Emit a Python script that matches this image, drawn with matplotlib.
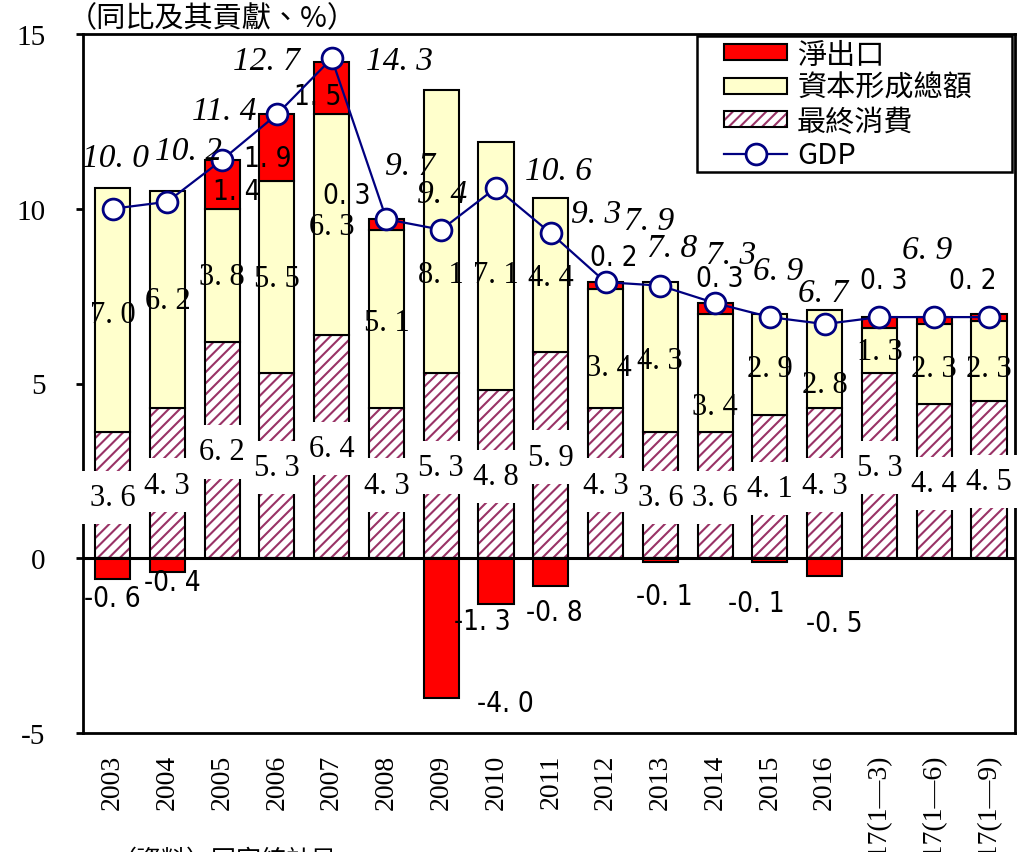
import matplotlib
matplotlib.use("Agg")
import matplotlib.pyplot as plt
from matplotlib.patches import Patch, Rectangle
from matplotlib.lines import Line2D

# contributions to GDP growth (percentage points) and GDP growth (%)
categories = ["2003", "2004", "2005", "2006", "2007", "2008", "2009", "2010",
              "2011", "2012", "2013", "2014", "2015", "2016",
              "2017(1—3)", "2017(1—6)", "2017(1—9)"]
consumption = [3.6, 4.3, 6.2, 5.3, 6.4, 4.3, 5.3, 4.8, 5.9, 4.3, 3.6, 3.6, 4.1, 4.3, 5.3, 4.4, 4.5]
capital = [7.0, 6.2, 3.8, 5.5, 6.3, 5.1, 8.1, 7.1, 4.4, 3.4, 4.3, 3.4, 2.9, 2.8, 1.3, 2.3, 2.3]
net_exports = [-0.6, -0.4, 1.4, 1.9, 1.5, 0.3, -4.0, -1.3, -0.8, 0.2, -0.1, 0.3, -0.1, -0.5, 0.3, 0.2, 0.2]
gdp = [10.0, 10.2, 11.4, 12.7, 14.3, 9.7, 9.4, 10.6, 9.3, 7.9, 7.8, 7.3, 6.9, 6.7, 6.9, 6.9, 6.9]

# hand-placed label offsets in pixels (dx, dy-down), None = label hidden
gdp_off = [(3, -51), (21, -51), (2, -49), (-10, -54), (68, 2), (24, -53), (1, -36),
           (62, -17), (45, -19), (44, -61), (12, -38), (16, -48), (8, -46), (-2, -31),
           None, (-7, -67), None]
net_off = [(0, 19), (5, 10), (15, 31), (-9, 44), (-14, 34), (-40, -24), (64, 5),
           (-14, 17), (4, 26), (8, -25), (4, 34), (5, -25), (-14, 41), (10, 47),
           (4, -37), None, (-16, -34)]
cap_off = [(0, 4), (0, 1), (0, 1), (0, 2), (0, 2), (0, 4), (0, 43), (0, 8), (0, 2),
           (3, 19), (0, 3), (0, 33), (0, 4), (0, 25), (0, 1), (0, 4), (0, 8)]

RED = "#ff0000"
YEL = "#ffffcc"
PUR = "#993366"
NAVY = "#000080"
SERIF = ["Liberation Serif", "DejaVu Serif"]
CJK = ["Noto Sans CJK TC", "DejaVu Sans"]
NARROW = ["Liberation Sans Narrow", "DejaVu Sans"]

plt.rcParams["hatch.linewidth"] = 1.5
plt.rcParams["axes.unicode_minus"] = False


def fmt(v):
    return f"{v:.1f}".replace(".", ". ")


fig = plt.figure(figsize=(10.3, 8.53), dpi=100)
ax = fig.add_axes([83 / 1030, 119 / 853, 932 / 1030, 699 / 853])

x = list(range(len(categories)))
w = 0.64
base_cap = consumption
base_net = [c + k if n > 0 else 0 for c, k, n in zip(consumption, capital, net_exports)]

# final consumption: purple hatch, then black outline on top
ax.bar(x, consumption, w, color="white", edgecolor=PUR, hatch="///", lw=0, zorder=2)
ax.bar(x, consumption, w, fill=False, edgecolor="black", lw=1.5, zorder=2.1)
ax.bar(x, capital, w, bottom=base_cap, color=YEL, edgecolor="black", lw=1.5, zorder=2.1)
ax.bar(x, net_exports, w, bottom=base_net, color=RED, edgecolor="black", lw=1.5, zorder=2.1)

ax.plot(x, gdp, color=NAVY, lw=1.6, marker="o", ms=15, mfc="white", mec=NAVY,
        mew=2, zorder=5)

ax.axhline(0, color="black", lw=2.2, zorder=3)

# consumption labels: white boxes first, then the numbers over them
for i, v in enumerate(consumption):
    ax.annotate(fmt(v), (i, v / 2), xytext=(0, -2), textcoords="offset pixels",
                ha="center", va="center", fontsize=22, family=SERIF, zorder=3.8,
                color="none",
                bbox=dict(boxstyle="square,pad=0.4", fc="white", ec="none"))
for i, v in enumerate(consumption):
    ax.annotate(fmt(v), (i, v / 2), xytext=(0, -2), textcoords="offset pixels",
                ha="center", va="center", fontsize=22, family=SERIF, zorder=4)

# capital formation labels
for i, v in enumerate(capital):
    dx, dy = cap_off[i]
    ax.annotate(fmt(v), (i, consumption[i] + v / 2), xytext=(dx, -dy),
                textcoords="offset pixels", ha="center", va="center",
                fontsize=22, family=SERIF, zorder=4)

# net export labels
for i, v in enumerate(net_exports):
    if net_off[i] is None:
        continue
    dx, dy = net_off[i]
    y = base_net[i] + v
    ax.annotate(fmt(v), (i, y), xytext=(dx, -dy), textcoords="offset pixels",
                ha="center", va="center", fontsize=20, family=NARROW,
                fontstretch="condensed", zorder=4)

# GDP labels
for i, v in enumerate(gdp):
    if gdp_off[i] is None:
        continue
    dx, dy = gdp_off[i]
    ax.annotate(fmt(v), (i, v), xytext=(dx, -dy), textcoords="offset pixels",
                ha="center", va="center", fontsize=24, family=SERIF,
                style="italic", zorder=6)

ax.set_xlim(-0.54, 16.475)
ax.set_ylim(-5, 15)
ax.set_yticks([-5, 0, 5, 10, 15])
ax.set_xticks(x)
ax.set_xticklabels(categories, rotation=90, va="top", ha="center")
for t in ax.get_xticklabels() + ax.get_yticklabels():
    t.set_family(SERIF)
ax.tick_params(axis="y", direction="out", length=5, width=2, labelsize=21, pad=22)
ax.tick_params(axis="x", length=0, labelsize=20, pad=15)
for s in ax.spines.values():
    s.set_linewidth(2)

# legend with separate frame
handles = [
    Patch(facecolor=RED, edgecolor="black", lw=1.5),
    Patch(facecolor=YEL, edgecolor="black", lw=1.5),
    (Patch(facecolor="white", edgecolor=PUR, hatch="///", lw=0),
     Patch(fill=False, edgecolor="black", lw=1.5)),
    Line2D([], [], color=NAVY, lw=1.6, marker="o", ms=15, mfc="white", mec=NAVY, mew=2),
]
labels = ["淨出口", "資本形成總額", "最終消費", "GDP"]
leg = ax.legend(handles, labels, loc="upper left", bbox_to_anchor=(0.688, 0.992),
                frameon=False, borderpad=0, borderaxespad=0, handlelength=2.15,
                handleheight=0.45, handletextpad=0.35, labelspacing=0.12,
                prop={"family": CJK, "size": 21})
leg.set_zorder(7)
ax.add_patch(Rectangle((0.659, 0.8026), 0.338, 0.1944, transform=ax.transAxes,
                       fill=False, ec="black", lw=1.8, zorder=6.5))

fig.text(68 / 1030, 1 - 4 / 853, "（同比及其貢獻、%）", ha="left", va="top",
         fontsize=21, family=CJK)
fig.text(112 / 1030, 6 / 853, "（資料）国家統計局", ha="left", va="top",
         fontsize=18, family=CJK)

fig.savefig("out.png", dpi=100, facecolor="white")
